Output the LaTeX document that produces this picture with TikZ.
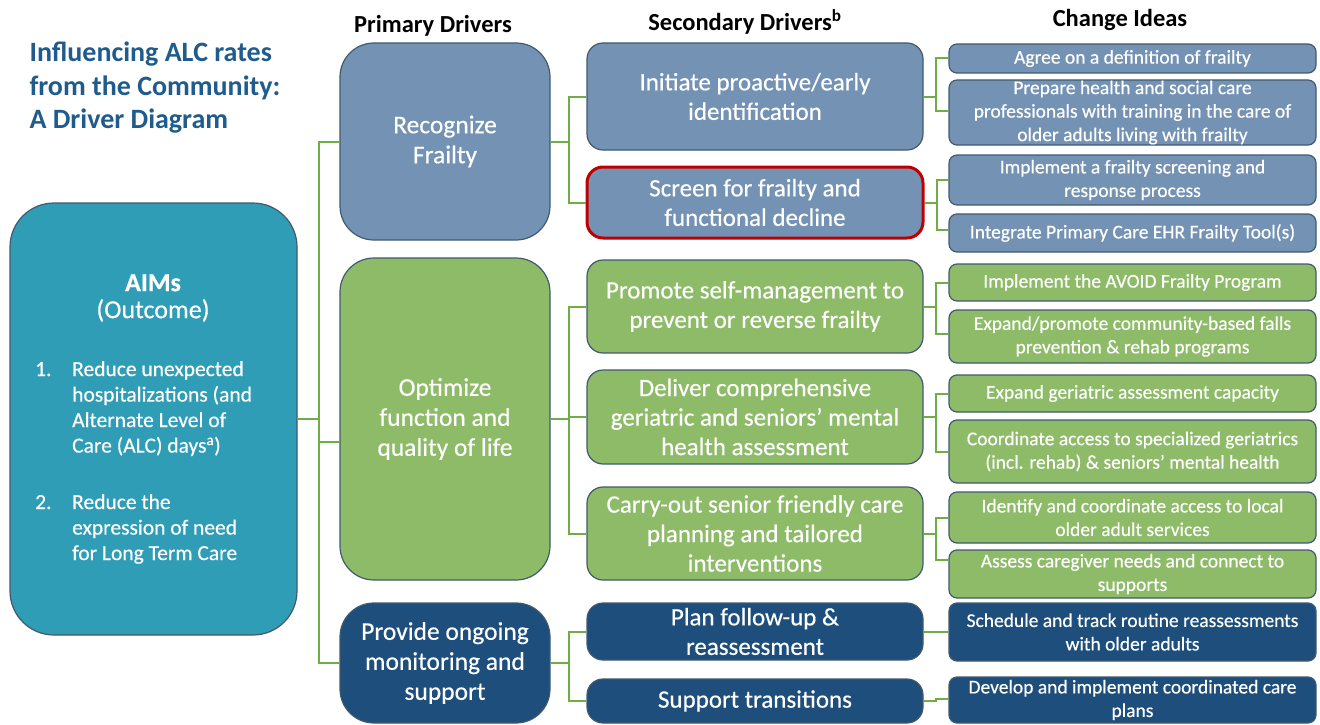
\documentclass[tikz,border=0pt]{standalone}
\usepackage{fontspec}
\setmainfont{Carlito}
\newfontfamily\boxfont{Carlito}[FakeBold=0.4]
\usetikzlibrary{positioning}
\definecolor{slate}{HTML}{7493B4}
\definecolor{leaf}{HTML}{8DBB68}
\definecolor{navy}{HTML}{1E4E7C}
\definecolor{teal}{HTML}{2F9DB5}
\definecolor{edge}{HTML}{415A6E}
\definecolor{linkgreen}{HTML}{70AD47}
\definecolor{titleblue}{HTML}{1F5B8C}
\definecolor{alert}{HTML}{C00000}

\begin{document}
\begin{tikzpicture}[x=1pt,y=-1pt,
    prim/.style={draw=edge, line width=1.2pt, rounded corners=34pt, minimum width=210pt,
      text=white, align=center, inner sep=0pt, font=\boxfont\fontsize{25.5}{30}\selectfont},
    sec/.style={draw=edge, line width=1.2pt, rounded corners=16pt, minimum width=336pt,
      text=white, align=center, inner sep=0pt, font=\boxfont\fontsize{25}{29.5}\selectfont},
    idea/.style={draw=edge, line width=1.2pt, rounded corners=8pt, minimum width=367pt,
      text=white, align=center, inner sep=0pt, font=\boxfont\fontsize{19.5}{23.5}\selectfont},
    head/.style={font=\fontsize{24.5}{28}\selectfont\bfseries},
    link/.style={draw=linkgreen, line width=2pt}]
  \useasboundingbox (0,0) rectangle (1320,725);

  % title and column heads
  \node[anchor=west, align=left, text=titleblue, font=\fontsize{28}{33.5}\selectfont\bfseries]
    (title) at (26,88) {Influencing ALC rates\\from the Community:\\A Driver Diagram};
  \node[head] (hprim) at (433,26) {Primary Drivers};
  \node[head] (hsec) at (745,22) {Secondary Drivers\textsuperscript{b}};
  \node[head] (hidea) at (1120,20) {Change Ideas};

  % aims
  \node[fill=teal, draw=edge, line width=1.2pt, rounded corners=44pt, minimum width=287pt,
    minimum height=432pt] (aim) at (153.5,419) {};
  \node[text=white, align=center, font=\boxfont\fontsize{26}{27}\selectfont] (aimhead) at (153,298)
    {\textbf{AIMs}\\(Outcome)};
  \node[text=white, anchor=north west, inner sep=0pt, font=\boxfont\fontsize{21.5}{25.5}\selectfont]
    (aimlist) at (35,358) {\begin{tabular}{@{}p{37pt}@{}l@{}}
      1. & Reduce unexpected\\
         & hospitalizations (and\\
         & Alternate Level of\\
         & Care (ALC) days\textsuperscript{a})\\[31pt]
      2. & Reduce the\\
         & expression of need\\
         & for Long Term Care
    \end{tabular}};

  % primary drivers
  \node[prim, fill=slate, minimum height=197pt] (rec) at (445,141.5) {Recognize\\Frailty};
  \node[prim, fill=leaf, minimum height=322pt] (opt) at (445,419) {Optimize\\function and\\quality of life};
  \node[prim, fill=navy, minimum height=120pt] (prov) at (445,663) {Provide ongoing\\monitoring and\\support};

  % secondary drivers
  \node[sec, fill=slate, minimum height=107pt] (init) at (755,96.5) {Initiate proactive/early\\identification};
  \node[sec, fill=slate, draw=alert, line width=3pt, minimum height=71pt] (screen) at (755,202.5)
    {Screen for frailty and\\functional decline};
  \node[sec, fill=leaf, minimum height=93pt] (promote) at (755,306.5) {Promote self-management to\\prevent or reverse frailty};
  \node[sec, fill=leaf, minimum height=94pt] (deliver) at (755,417)
    {Deliver comprehensive\\geriatric and seniors’ mental\\health assessment};
  \node[sec, fill=leaf, minimum height=93pt] (carry) at (755,533.5)
    {Carry-out senior friendly care\\planning and tailored\\interventions};
  \node[sec, fill=navy, minimum height=57pt] (plan) at (755,631.5) {Plan follow-up \&\\reassessment};
  \node[sec, fill=navy, minimum height=44pt] (trans) at (755,701) {Support transitions};

  % change ideas
  \foreach \n/\c/\y/\h/\t in {
      agree/slate/58.5/29/{Agree on a definition of frailty},
      prep/slate/112.5/65/{Prepare health and social care\\professionals with training in the care of\\older adults living with frailty},
      screenproc/slate/180/50/{Implement a frailty screening and\\response process},
      ehr/slate/233/38/{Integrate Primary Care EHR Frailty Tool(s)},
      avoid/leaf/282.5/37/{Implement the AVOID Frailty Program},
      falls/leaf/336.5/53/{Expand{/}promote community-based falls\\prevention \& rehab programs},
      capacity/leaf/393.5/37/{Expand geriatric assessment capacity},
      access/leaf/451.5/63/{Coordinate access to specialized geriatrics\\(incl. rehab) \& seniors’ mental health},
      local/leaf/517.5/51/{Identify and coordinate access to local\\older adult services},
      carers/leaf/574/48/{Assess caregiver needs and connect to\\supports},
      track/navy/632/58/{Schedule and track routine reassessments\\with older adults},
      plans/navy/700/46/{Develop and implement coordinated care\\plans}}
    \node[idea, fill=\c, minimum height=\h pt] (\n) at (1132.5,\y) {\t};

  % connectors
  \foreach \b/\s in {rec/0, opt/-23, prov/0}
    \draw[link] (aim.east) -- ++(21,0) |- ([yshift=\s pt]\b.west);
  \foreach \a/\b in {rec/init, rec/screen, opt/promote, opt/deliver, opt/carry, prov/plan, prov/trans}
    \draw[link] (\a.east) -- ++(18,0) |- (\b.west);
  \foreach \a/\b/\s in {init/agree/0, init/prep/2, screen/screenproc/0, screen/ehr/3, promote/avoid/0,
      promote/falls/3, deliver/capacity/0, deliver/access/0, carry/local/0, carry/carers/14,
      plan/track/0, trans/plans/1}
    \draw[link] (\a.east) -- ++(12,0) |- ([yshift=\s pt]\b.west);
\end{tikzpicture}
\end{document}
